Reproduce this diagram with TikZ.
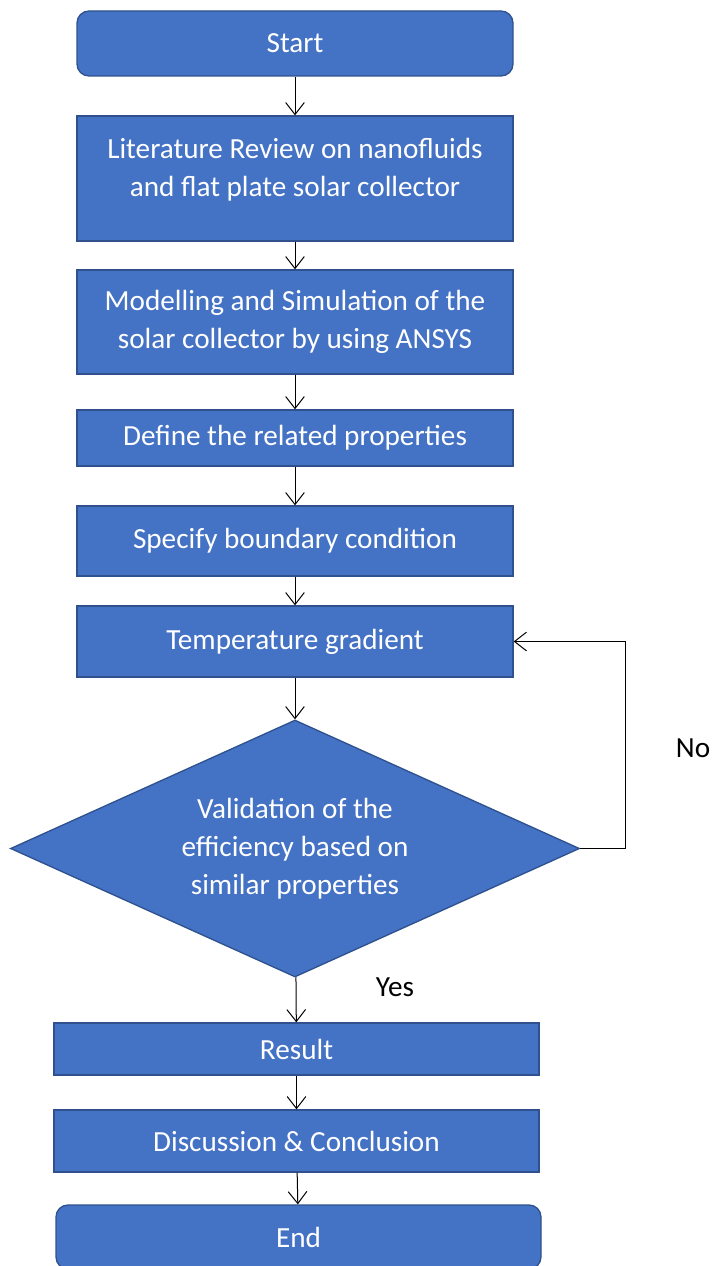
\documentclass[tikz,border=0pt]{standalone}
\usepackage{fontspec}
\setmainfont{Carlito}
\usetikzlibrary{shapes.geometric,arrows.meta}
\definecolor{boxblue}{HTML}{4472C4}
\definecolor{edgeblue}{HTML}{2F528F}
\begin{document}
\begin{tikzpicture}[x=0.75pt,y=-0.75pt,
  procbox/.style={draw=edgeblue,fill=boxblue,line width=1pt,text=white,inner sep=0pt,align=center,font=\fontsize{21.9}{28.5}\selectfont},
  termbox/.style={procbox,rounded corners=9pt},
  decbox/.style={procbox,diamond,aspect=2.21,minimum width=426.75pt,minimum height=192.75pt},
  arr/.style={-{Straight Barb[length=9pt,width=14pt]},line width=0.75pt}]
\useasboundingbox (0,0) rectangle (715,1266);
% main column
\node[termbox,minimum width=327pt,minimum height=48.75pt] (start) at (295,43.5) {Start};
\node[procbox,minimum width=327pt,minimum height=93.75pt,text depth=17pt] (lit) at (295,178.5) {Literature Review on nanofluids\\and flat plate solar collector};
\node[procbox,minimum width=327pt,minimum height=78pt] (model) at (295,322) {Modelling and Simulation of the\\solar collector by using ANSYS};
\node[procbox,minimum width=327pt,minimum height=42pt] (define) at (295,438) {Define the related properties};
\node[procbox,minimum width=327pt,minimum height=52.5pt] (specify) at (295,541) {Specify boundary condition};
\node[procbox,minimum width=327pt,minimum height=53.25pt] (temp) at (295,641.5) {Temperature gradient};
\node[decbox] (valid) at (295,848.5) {Validation of the\\efficiency based on\\similar properties};
\node[procbox,minimum width=363.75pt,minimum height=39pt] (result) at (296.5,1049) {Result};
\node[procbox,minimum width=363.75pt,minimum height=46.5pt] (disc) at (296.5,1141) {Discussion \& Conclusion};
\node[termbox,minimum width=363.75pt,minimum height=48pt] (end) at (298.5,1237) {End};
% labels
\node[font=\fontsize{21.9}{28.5}\selectfont] (no) at (693,748) {No};
\node[font=\fontsize{21.9}{28.5}\selectfont] (yes) at (395,987) {Yes};
% arrows
\draw[arr] (start) -- (lit);
\draw[arr] (lit) -- (model);
\draw[arr] (model) -- (define);
\draw[arr] (define) -- (specify);
\draw[arr] (specify) -- (temp);
\draw[arr] (temp) -- (valid);
\draw[arr] (valid) -- (result);
\draw[arr] (result) -- (disc);
\draw[arr] (disc) -- (end);
\draw[arr] (valid.east) -- ++(45,0) |- (temp.east);
\end{tikzpicture}
\end{document}
